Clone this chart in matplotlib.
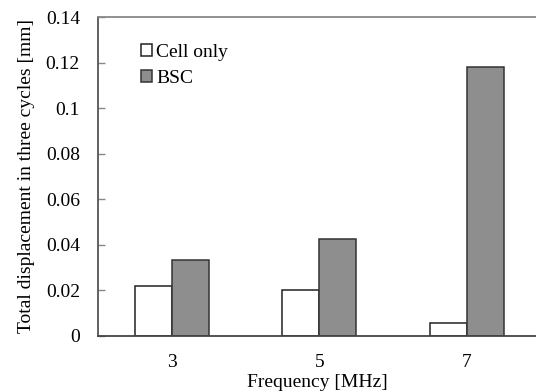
import numpy as np
from matplotlib import pyplot as plt

freqs = ['3', '5', '7']
cell_only = [0.0218, 0.0201, 0.0057]
bsc = [0.0333, 0.0425, 0.1179]

plt.rcParams['font.family'] = ['Liberation Serif', 'DejaVu Serif']
plt.rcParams['font.size'] = 14

fig = plt.figure(figsize=(5.36, 3.92), dpi=100)
ax = fig.add_axes([0.1828, 0.1436, 0.8172, 0.813])

x = np.arange(len(freqs))
w = 0.25
ax.bar(x - w / 2, cell_only, w, color='white', edgecolor='#222222', linewidth=1.1, label='Cell only')
ax.bar(x + w / 2, bsc, w, color='#8e8e8e', edgecolor='#333333', linewidth=1.1, label='BSC')

ax.set_xlim(-0.5, 2.47)
ax.set_ylim(0, 0.14)
ax.set_yticks(np.arange(0, 0.141, 0.02))
ax.set_yticklabels(['0', '0.02', '0.04', '0.06', '0.08', '0.1', '0.12', '0.14'])
ax.set_xticks(x)
ax.set_xticklabels(freqs)
ax.tick_params(axis='y', direction='in', length=5, width=1, color='#888888', pad=13)
ax.tick_params(axis='x', length=0, pad=13)

ax.spines['right'].set_visible(False)
ax.spines['left'].set_color('#555555')
ax.spines['left'].set_linewidth(1.3)
ax.spines['bottom'].set_color('#444444')
ax.spines['bottom'].set_linewidth(1.3)
ax.spines['top'].set_color('#888888')
ax.spines['top'].set_linewidth(1.3)

ax.set_xlabel('Frequency [MHz]', labelpad=2)
ax.set_ylabel('Total displacement in three cycles [mm]', labelpad=8)

ax.legend(loc='upper left', bbox_to_anchor=(0.08, 0.94), frameon=False,
          handlelength=0.6, handleheight=0.6, handletextpad=0.2, labelspacing=0.45,
          borderaxespad=0, fontsize=14)

fig.savefig('out.png', dpi=100)
